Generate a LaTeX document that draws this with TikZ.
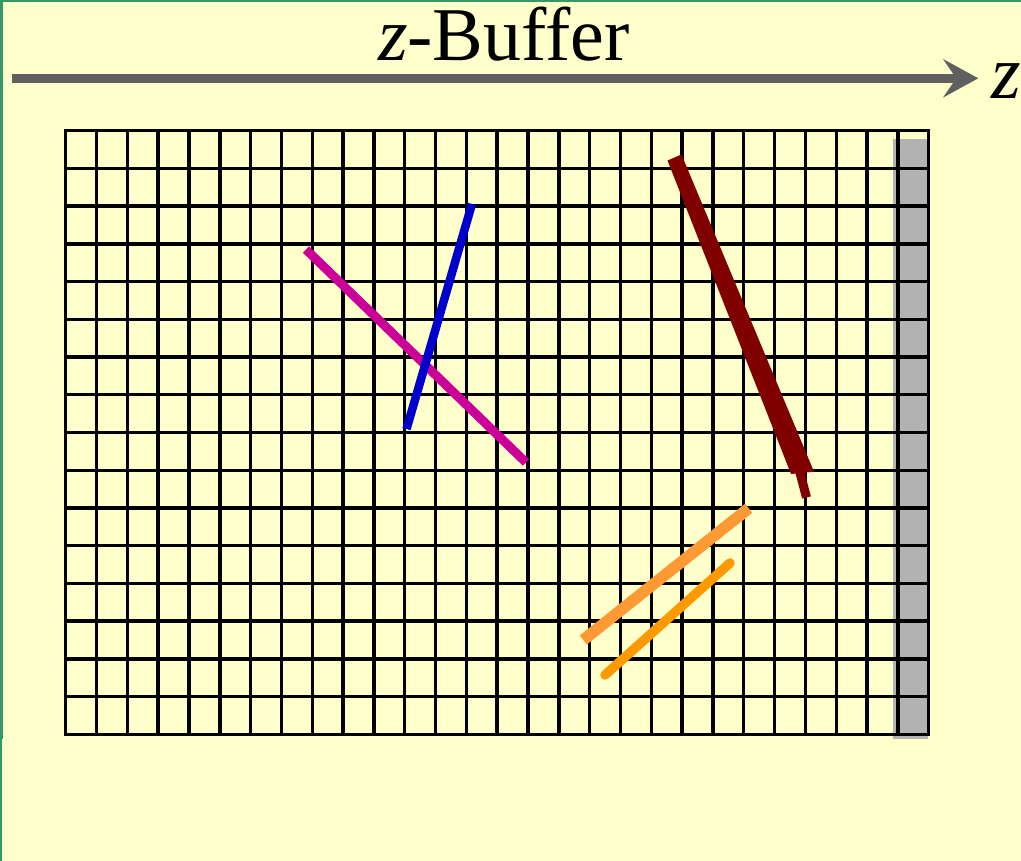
\documentclass[tikz,border=0pt]{standalone}
\usepackage{fontspec}
\setmainfont{Liberation Serif}
\usetikzlibrary{arrows.meta}
\definecolor{bgyellow}{HTML}{FFFFCC}
\definecolor{framegreen}{HTML}{339966}
\definecolor{axisgray}{HTML}{606060}
\definecolor{bufgray}{HTML}{B2B2B2}
\definecolor{pmag}{HTML}{CC0099}
\definecolor{pblue}{HTML}{0000CC}
\definecolor{pred}{HTML}{800000}
\definecolor{porange}{HTML}{FF9933}
\definecolor{porangeb}{HTML}{FF9900}
\begin{document}
\begin{tikzpicture}[x=1pt,y=-1pt,
  gridline/.style={black,line width=3.4pt},
  axisline/.style={axisgray,line width=8.7pt,-{Stealth[length=35pt 0,width=38pt 0,inset=13pt 0]}},
  bigtext/.style={font=\fontsize{76}{76}\selectfont,inner sep=0pt}]
\useasboundingbox (0,0) rectangle (1021,861);
\fill[bgyellow] (0,0) rectangle (1021,861);
\fill[framegreen] (0,0) rectangle (1021,1.8);
\fill[framegreen] (0,0) rectangle (2.8,739);
\fill[framegreen] (0,739) rectangle (2,861);
% title and axis
\node[bigtext,anchor=base] (title) at (504,61) {\textit{z}-Buffer};
\coordinate (zstart) at (12,78.3);
\coordinate (zend) at (978.3,78.3);
\draw[axisline] (zstart) -- (zend);
\node[bigtext,anchor=base west] (zlabel) at (991,99) {\textit{z}};
% gray buffer column
\fill[bufgray] (893,139) rectangle (927.5,739);
% grid
\foreach \i in {0,...,28}
  \draw[gridline] ({65.7+\i*30.82},130.7) -- ({65.7+\i*30.82},734.3);
\foreach \j in {0,...,16}
  \draw[gridline] (65.7,{130.7+\j*37.725}) -- (928.7,{130.7+\j*37.725});
\draw[gridline] (65.7,130.7) rectangle (928.7,734.3);
% primitives
\draw[pmag,line width=9pt] (306,249.5) -- (526,462.5);
\draw[pblue,line width=8.5pt] (472,204) -- (406.5,429);
\fill[pred] (667.5,160.5) -- (681.5,154.5) -- (814,471.7) -- (791,474) -- cycle;
\draw[pred,line width=9pt] (798,465) -- (806.5,497.5);
\draw[porange,line width=11.5pt] (583.3,640) -- (748.7,508.3);
\draw[porangeb,line width=9.5pt,line cap=round] (605,675) -- (730,563);
\end{tikzpicture}
\end{document}
